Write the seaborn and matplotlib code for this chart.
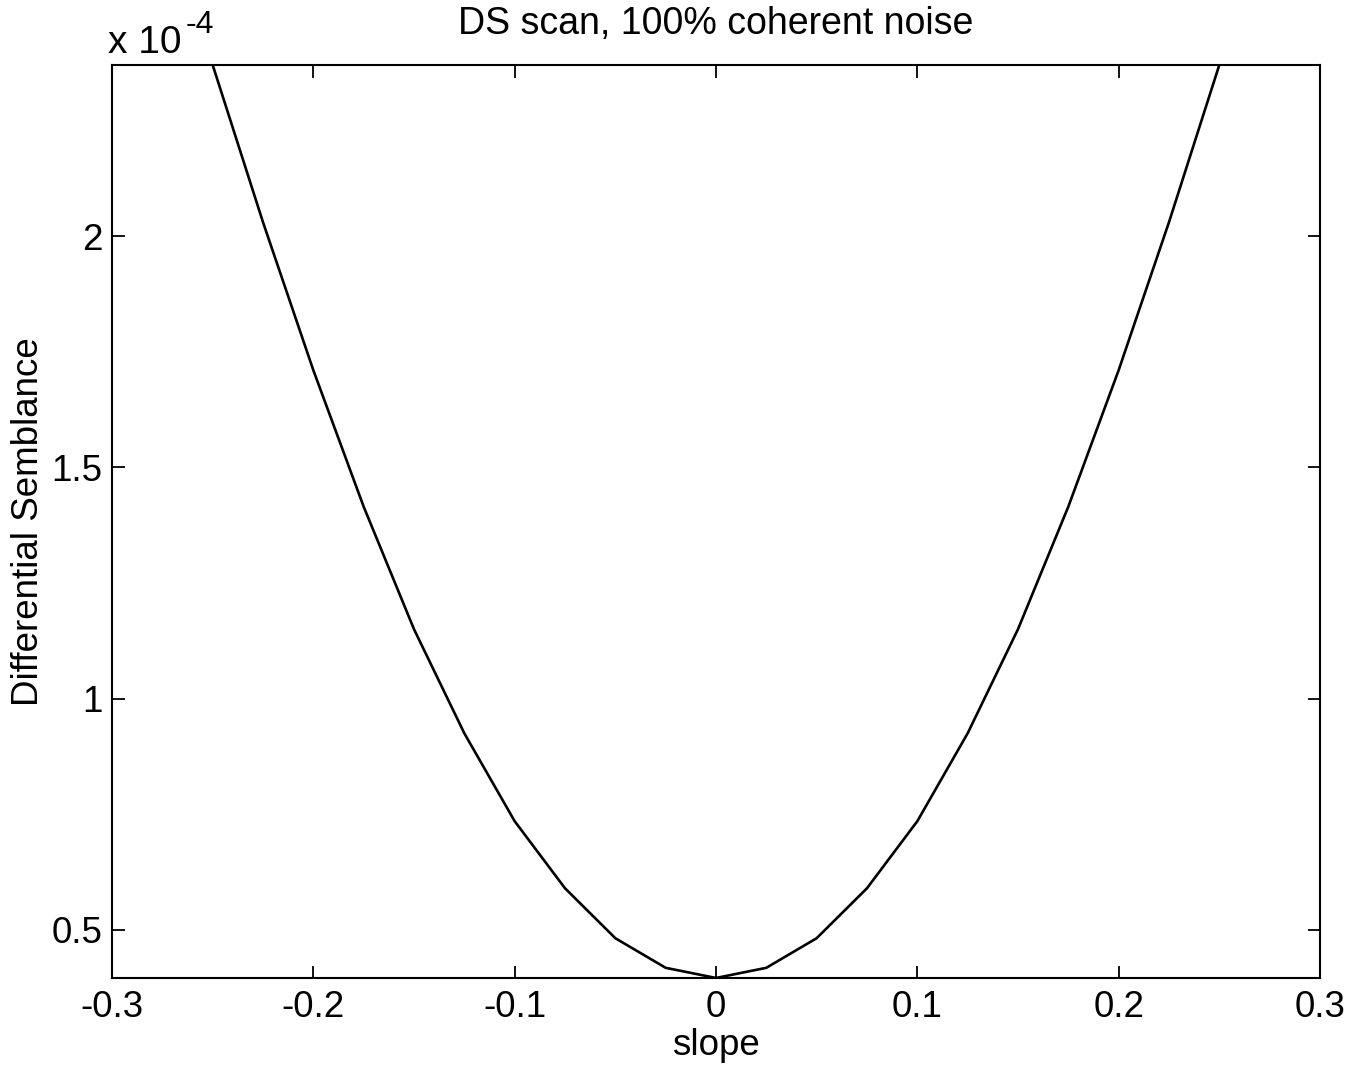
import numpy as np
import pandas as pd
import matplotlib
matplotlib.use("Agg")
import matplotlib.pyplot as plt
from matplotlib.ticker import FuncFormatter, FixedLocator
import seaborn as sns

# Differential semblance as a function of trial slope (100% coherent noise)
slope = [-0.25, -0.225, -0.2, -0.175, -0.15, -0.125, -0.1, -0.075, -0.05, -0.025, 0.0,
         0.025, 0.05, 0.075, 0.1, 0.125, 0.15, 0.175, 0.2, 0.225, 0.25]
semblance_e4 = [2.37, 2.03, 1.71, 1.415, 1.15, 0.925, 0.735, 0.59, 0.482, 0.418, 0.396,
                0.418, 0.482, 0.59, 0.735, 0.925, 1.15, 1.415, 1.71, 2.03, 2.37]
semblance = [v * 1e-4 for v in semblance_e4]

x_ticks = [-0.3, -0.2, -0.1, 0.0, 0.1, 0.2, 0.3]
y_ticks = [0.5e-4, 1.0e-4, 1.5e-4, 2.0e-4]

df = pd.DataFrame({"slope": slope, "ds": semblance})

sns.set_style("ticks")
plt.rcParams["font.family"] = ["Liberation Sans", "DejaVu Sans"]
plt.rcParams["axes.unicode_minus"] = False

fig = plt.figure(figsize=(13.66, 10.72), dpi=100)
ax = fig.add_axes([0.082, 0.0877, 0.8843, 0.8517])

sns.lineplot(data=df, x="slope", y="ds", ax=ax, color="black", linewidth=1.9,
             estimator=None, sort=False)

ax.set_xlim(-0.3, 0.3)
ax.set_ylim(min(semblance), max(semblance))

ax.xaxis.set_major_locator(FixedLocator(x_ticks))
ax.yaxis.set_major_locator(FixedLocator(y_ticks))
ax.xaxis.set_major_formatter(FuncFormatter(lambda v, p: f"{v:g}"))
ax.yaxis.set_major_formatter(FuncFormatter(lambda v, p: f"{v / 1e-4:g}"))

ax.tick_params(axis="both", which="major", direction="in", length=9, width=1.3,
               labelsize=26.5, top=True, right=True, color="black", labelcolor="black")
ax.tick_params(axis="x", pad=9)
ax.tick_params(axis="y", pad=7)
for s in ax.spines.values():
    s.set_visible(True)
    s.set_linewidth(1.5)
    s.set_color("black")

ax.set_xlabel("slope", fontsize=26.5, labelpad=2, color="black")
ax.set_ylabel("Differential Semblance", fontsize=26.5, labelpad=4, color="black")
ax.set_title("DS scan, 100% coherent noise", fontsize=27, pad=22, color="black")

# axis multiplier shown above the y axis
base = ax.text(-0.003, 1.004, "x 10", transform=ax.transAxes, fontsize=28,
               ha="left", va="bottom", color="black")
ax.annotate("-4", xy=(1.0, 0.6), xycoords=base, xytext=(3, 0),
            textcoords="offset points", fontsize=23,
            ha="left", va="bottom", color="black")

fig.savefig("out.png", dpi=100, facecolor="white")
